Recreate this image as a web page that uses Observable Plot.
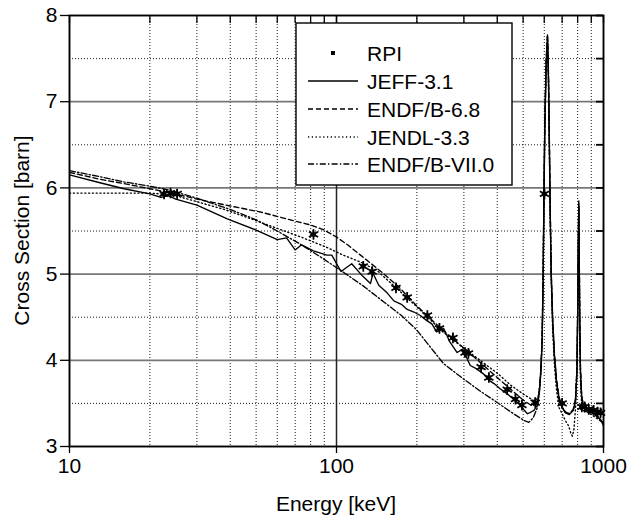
<!DOCTYPE html>
<html><head><meta charset="utf-8">
<script src="https://cdn.jsdelivr.net/npm/d3@7"></script>
<script src="https://cdn.jsdelivr.net/npm/@observablehq/plot@0.6"></script>
<style>
body{margin:0;background:#fff}
#chart{width:629px;height:522px}
</style>
</head><body><div id="chart"></div>
<script>
// ---- data ----
const seriesNames = ["RPI", "JEFF-3.1", "ENDF/B-6.8", "JENDL-3.3", "ENDF/B-VII.0"];
const xLabel = "Energy [keV]";
const yLabel = "Cross Section [barn]";

const rpi = [[22.6,5.93],[23.9,5.94],[25.3,5.93],[82,5.46],[126,5.09],[136,5.03],[167,4.84],[184,4.73],[219,4.52],[243,4.37],[273,4.26],[303,4.09],[312,4.08],[348,3.92],[372,3.80],[436,3.66],[468,3.55],[495,3.48],[555,3.51],[601,5.93],[700,3.50],[830,3.46],[850,3.46],[880,3.43],[918,3.42],[950,3.40],[975,3.39]];
const rpiErr = 0.05;

const jeff = [[10,6.15],[13,6.06],[16,5.99],[20,5.93],[22,5.89],[23.5,5.91],[25,5.87],[30,5.80],[39,5.64],[50,5.51],[60,5.40],[65,5.42],[70,5.28],[74,5.34],[82,5.27],[92,5.22],[96,5.22],[104,5.03],[114,5.12],[125,4.98],[134,4.89],[137,5.01],[144,4.87],[155,4.78],[164,4.69],[175,4.65],[184,4.59],[195,4.56],[206,4.52],[218,4.46],[228,4.42],[237,4.33],[252,4.37],[265,4.22],[283,4.09],[297,4.13],[317,3.94],[335,3.90],[356,3.84],[372,3.77],[389,3.73],[410,3.67],[436,3.61],[460,3.55],[488,3.48],[505,3.42],[519,3.38],[535,3.40],[549,3.42],[565,3.48],[575,3.63],[582,3.84],[589,4.2],[594,4.9],[598,5.8],[603,6.7],[610,7.45],[617,7.76],[622,7.3],[627,6.5],[631,5.8],[637,5.0],[645,4.45],[655,4.05],[667,3.75],[682,3.55],[700,3.45],[720,3.39],[745,3.37],[770,3.42],[785,3.52],[795,3.85],[801,4.6],[805,5.35],[808,5.8],[811,5.25],[815,4.4],[820,3.85],[828,3.58],[840,3.47],[855,3.45],[870,3.42],[885,3.44],[900,3.39],[920,3.38],[940,3.35],[960,3.33],[980,3.30],[1000,3.24]];

const endf68 = [[10,6.18],[13,6.10],[16,6.05],[20,5.99],[25,5.93],[30,5.87],[40,5.79],[52,5.72],[69,5.62],[80,5.57],[90,5.51],[100,5.43],[110,5.34],[123,5.22],[135,5.12],[148,5.02],[170,4.86],[200,4.63],[250,4.35],[300,4.14],[350,3.96],[400,3.80],[450,3.66],[500,3.54],[540,3.47],[565,3.50],[575,3.65],[582,3.87],[589,4.25],[594,4.95],[598,5.9],[603,6.8],[610,7.5],[617,7.78],[622,7.35],[627,6.55],[631,5.85],[637,5.05],[645,4.5],[655,4.08],[667,3.78],[682,3.57],[700,3.46],[720,3.40],[745,3.38],[770,3.43],[785,3.55],[795,3.9],[801,4.65],[805,5.4],[808,5.85],[811,5.3],[815,4.45],[820,3.9],[828,3.6],[840,3.48],[870,3.43],[900,3.40],[950,3.35],[1000,3.26]];

const jendl = [[10,5.94],[15,5.94],[20,5.94],[22,5.93],[25,5.91],[30,5.84],[38,5.75],[46,5.66],[60,5.53],[75,5.42],[92,5.31],[106,5.22],[123,5.14],[142,5.04],[170,4.82],[200,4.62],[250,4.33],[300,4.14],[345,4.00],[400,3.85],[450,3.71],[500,3.61],[549,3.53],[568,3.56],[578,3.72],[586,4.05],[592,4.7],[597,5.6],[602,6.6],[609,7.35],[617,7.72],[622,7.25],[627,6.45],[631,5.75],[637,4.95],[645,4.35],[655,3.95],[667,3.65],[682,3.45],[700,3.38],[720,3.30],[740,3.24],[755,3.15],[765,3.12],[775,3.2],[788,3.5],[796,3.95],[801,4.6],[805,5.35],[808,5.75],[811,5.2],[815,4.3],[820,3.75],[828,3.5],[840,3.42],[870,3.40],[900,3.37],[950,3.32],[1000,3.27]];

const endf70 = [[10,6.20],[13,6.13],[16,6.07],[20,6.02],[24,5.97],[30,5.88],[40,5.75],[50,5.63],[60,5.50],[73,5.35],[88,5.19],[104,5.04],[125,4.87],[150,4.68],[175,4.52],[200,4.35],[225,4.15],[252,3.96],[300,3.78],[350,3.63],[400,3.51],[450,3.40],[505,3.30],[525,3.28],[545,3.33],[565,3.45],[575,3.62],[582,3.85],[589,4.22],[594,4.92],[598,5.85],[603,6.75],[610,7.45],[617,7.76],[622,7.3],[627,6.5],[631,5.8],[637,5.0],[645,4.45],[655,4.05],[667,3.75],[682,3.55],[700,3.45],[720,3.40],[745,3.38],[770,3.42],[785,3.53],[795,3.88],[801,4.62],[805,5.38],[808,5.82],[811,5.27],[815,4.42],[820,3.88],[828,3.59],[840,3.48],[870,3.43],[900,3.40],[950,3.35],[1000,3.27]];

const xMajor = [10, 100, 1000];
const xMinor = [20,30,40,50,60,70,80,90,200,300,400,500,600,700,800,900];
const yMajor = [3,4,5,6,7,8];
const yMinor = [3.5,4.5,5.5,6.5,7.5];

// ---- styles ----
const dashes = {"JEFF-3.1": null, "ENDF/B-6.8": "5,3", "JENDL-3.3": "1.2,2.6", "ENDF/B-VII.0": "6,2.2,1.4,2.2"};
const curves = [["JEFF-3.1", jeff], ["ENDF/B-6.8", endf68], ["JENDL-3.3", jendl], ["ENDF/B-VII.0", endf70]];

const W = 629, H = 522;
const mL = 69, mR = 26, mT = 15, mB = 76;
const plotW = W - mL - mR, plotH = H - mT - mB;
const FONT = "'Liberation Sans', Arial, Helvetica, sans-serif";
const FS = 21;

const marks = [
  Plot.ruleY(yMinor, {stroke: "#000", strokeWidth: 0.9, strokeDasharray: "1,2"}),
  Plot.ruleX(xMinor, {stroke: "#000", strokeWidth: 0.9, strokeDasharray: "1,2"}),
  Plot.ruleY(yMajor.filter(d => d > 3 && d < 8), {stroke: "#777", strokeWidth: 1.8}),
  Plot.ruleX([100], {stroke: "#222", strokeWidth: 1.5}),
];
for (const [name, data] of curves) {
  marks.push(Plot.line(data, {x: d => d[0], y: d => d[1], stroke: "#000", strokeWidth: 1.35,
    strokeDasharray: dashes[name], clip: true}));
}
marks.push(
  Plot.ruleX(rpi, {x: d => d[0], y1: d => d[1] - rpiErr, y2: d => d[1] + rpiErr, stroke: "#000", strokeWidth: 1.3}),
  Plot.ruleY(rpi, {y: d => d[1], x1: d => d[0] * 0.98, x2: d => d[0] * 1.02, stroke: "#000", strokeWidth: 1.3}),
  Plot.dot(rpi, {x: d => d[0], y: d => d[1], symbol: "asterisk", r: 5, stroke: "#000", strokeWidth: 1.7}),
  Plot.dot(rpi, {x: d => d[0], y: d => d[1], symbol: "square", r: 2.4, fill: "#000"}),
  Plot.frame({stroke: "#000", strokeWidth: 1.9}),
  Plot.tickX(xMajor.concat(xMinor), {x: d => d, stroke: "#000", strokeWidth: 1.3, insetBottom: plotH - 8}),
  Plot.tickY(yMajor.concat(yMinor), {y: d => d, stroke: "#000", strokeWidth: 1.8, insetLeft: plotW - 7}),
  Plot.axisY(yMajor, {anchor: "left", tickSize: 9, tickPadding: 3, fontSize: FS, tickFormat: d => String(d), label: null, strokeWidth: 1.3}),
  Plot.axisX(xMajor, {anchor: "bottom", tickSize: 7, tickPadding: 5, fontSize: FS, tickFormat: d => String(d), label: null, strokeWidth: 1.3})
);

const svg = Plot.plot({
  width: W, height: H,
  marginLeft: mL, marginRight: mR, marginTop: mT, marginBottom: mB,
  x: {type: "log", domain: [10, 1000], axis: null},
  y: {domain: [3, 8], axis: null},
  style: {fontFamily: FONT, fontSize: FS + "px", color: "#000", background: "#fff"},
  marks
});
document.getElementById("chart").appendChild(svg);

const root = d3.select(svg);
// axis titles
root.append("text").attr("x", mL + plotW / 2).attr("y", 503).attr("dy", "0.36em")
  .attr("text-anchor", "middle").attr("font-family", FONT).attr("font-size", FS).attr("fill", "#000").text(xLabel);
root.append("text").attr("transform", `translate(21,${mT + plotH / 2}) rotate(-90)`).attr("dy", "0.36em")
  .attr("text-anchor", "middle").attr("font-family", FONT).attr("font-size", FS).attr("fill", "#000").text(yLabel);

// legend box
const g = root.append("g").attr("font-family", FONT).attr("font-size", FS).attr("text-anchor", "start");
g.append("rect").attr("x", 296).attr("y", 23).attr("width", 216).attr("height", 162)
  .attr("fill", "#fff").attr("stroke", "#000").attr("stroke-width", 1.4);
const rowY = [53, 81, 109, 137, 164];
seriesNames.forEach((name, i) => {
  const y = rowY[i];
  if (name === "RPI") {
    g.append("rect").attr("x", 331).attr("y", y - 2).attr("width", 4).attr("height", 4).attr("fill", "#000");
  } else {
    g.append("line").attr("x1", 308).attr("x2", 358).attr("y1", y).attr("y2", y)
      .attr("stroke", "#000").attr("stroke-width", 1.3)
      .attr("stroke-dasharray", dashes[name]);
  }
  g.append("text").attr("x", 367).attr("y", y).attr("dy", "0.36em").attr("text-anchor", "start").text(name);
});
</script>
</body></html>
